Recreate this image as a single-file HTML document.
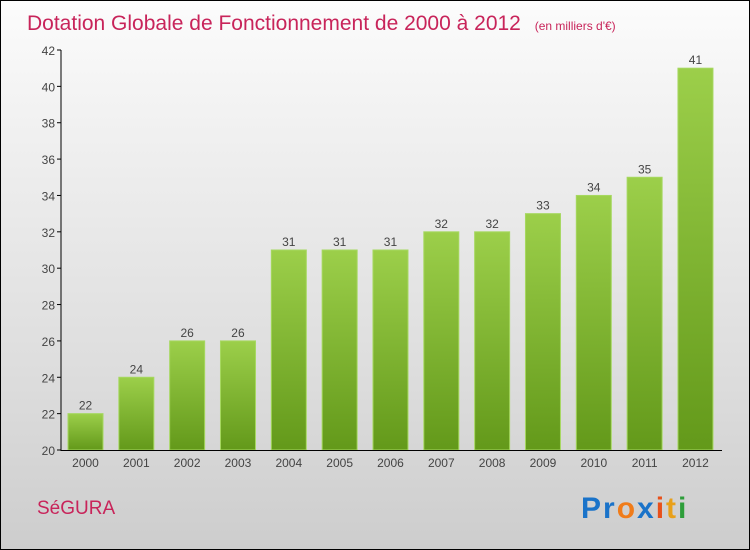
<!DOCTYPE html>
<html><head><meta charset="utf-8"><style>
body{margin:0}
#c{width:748px;height:548px;border:1px solid #000;position:relative;background:linear-gradient(#fcfcfc,#f2f2f2 20%,#dcdcdc 70%,#cdcdcd);font-family:"Liberation Sans",sans-serif;overflow:hidden}
</style></head><body>
<div id="c">
<svg width="748" height="548">
<defs><linearGradient id="g" x1="0" y1="0" x2="0" y2="1"><stop offset="0" stop-color="#9ccf4a"/><stop offset="1" stop-color="#63991a"/></linearGradient></defs>
<text x="26" y="29" font-size="21" fill="#c8245a">Dotation Globale de Fonctionnement de 2000 à 2012 <tspan font-size="12" dx="8">(en milliers d'€)</tspan></text>
<g id="plot"></g>
<text x="36" y="513" font-size="19" fill="#c8245a">SéGURA</text>
<text x="580" y="517" font-size="30" font-weight="bold" letter-spacing="2"><tspan fill="#1a73c9">Pr</tspan><tspan fill="#f07c1a">o</tspan><tspan fill="#1a73c9">x</tspan><tspan fill="#e8501a">i</tspan><tspan fill="#e8a01a">t</tspan><tspan fill="#2e9e3a">i</tspan></text>
</svg></div>
<script>
const years=["2000","2001","2002","2003","2004","2005","2006","2007","2008","2009","2010","2011","2012"];
const values=[22,24,26,26,31,31,31,32,32,33,34,35,41];
const yTicks=[20,22,24,26,28,30,32,34,36,38,40,42];
const ns="http://www.w3.org/2000/svg",p=document.getElementById('plot');
const y=v=>449-(v-20)*400/22, x=i=>84.5+i*50.83;
function mk(t,a){const e=document.createElementNS(ns,t);for(const k in a)e.setAttribute(k,a[k]);p.appendChild(e);return e;}
yTicks.forEach(t=>{
const l=mk('line',{x1:56,x2:60,y1:y(t),y2:y(t),stroke:'#000'});


const tx=mk('text',{x:54,y:y(t)+5,'font-size':12,fill:'#444','text-anchor':'end'});tx.textContent=t;


});
values.forEach((v,i)=>{
const r=mk('rect',{x:x(i)-17.5,y:y(v),width:35,height:y(20)-y(v),fill:'url(#g)',stroke:'#a6d860','stroke-width':1});


const lb=mk('text',{x:x(i),y:y(v)-4,'font-size':12,fill:'#444','text-anchor':'middle'});lb.textContent=v;


const xl=mk('text',{x:x(i),y:466,'font-size':12,fill:'#444','text-anchor':'middle'});xl.textContent=years[i];


});
const ya=mk('line',{x1:60,x2:60,y1:y(42),y2:450,stroke:'#000'});


const xa=mk('line',{x1:60,x2:721,y1:449.5,y2:449.5,stroke:'#000'});


</script>
</body></html>
